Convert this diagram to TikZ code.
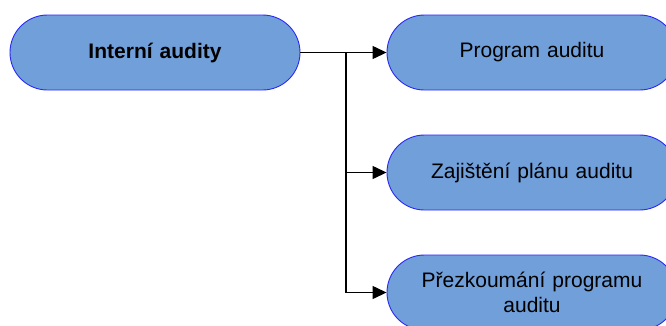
\documentclass[tikz,border=0pt]{standalone}
\usepackage{fontspec}
\setmainfont{Liberation Sans}
\usetikzlibrary{arrows.meta}
\definecolor{boxfill}{HTML}{709FDA}
\definecolor{boxline}{HTML}{2A2AF5}
\begin{document}
\begin{tikzpicture}[x=1pt,y=-1pt,
  pill/.style={draw=boxline, line width=0.9pt, fill=boxfill, rectangle,
    rounded corners=37.5pt, minimum width=290pt, minimum height=75pt,
    inner sep=0pt, align=center, text width=260pt,
    font=\fontsize{21pt}{25pt}\selectfont},
  conn/.style={line width=1.3pt, draw=black},
  tip/.style={-{Triangle[length=14pt,width=13pt]}}
]
\clip (0,0) rectangle (666,325);
\fill[white] (0,0) rectangle (666,325);
\node[pill, font=\fontsize{21pt}{25pt}\selectfont\bfseries] (a) at (155,52.5) {Interní audity};
\node[pill] (b) at (532,52.5) {Program auditu};
\node[pill] (c) at (532,172.5) {Zajištění plánu auditu};
\node[pill] (d) at (532,292.5) {Přezkoumání programu\\auditu};
\coordinate (j) at (346,52.5);
\draw[conn] (a.east) -- (j);
\draw[conn, tip] (j) -- (b.west);
\draw[conn, tip] (j) |- (c.west);
\draw[conn, tip] (j) |- (d.west);
\end{tikzpicture}
\end{document}
